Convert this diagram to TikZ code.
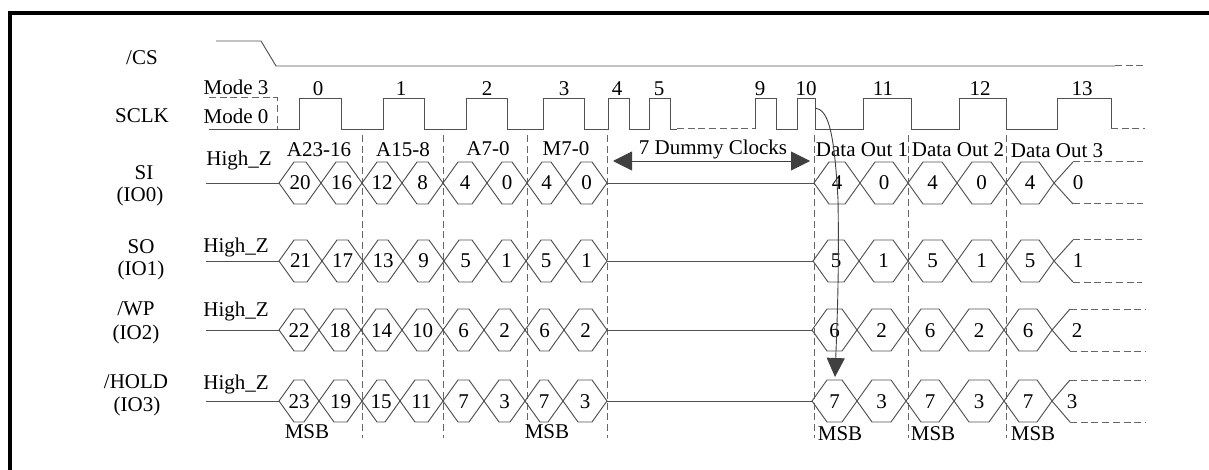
\documentclass[tikz,border=0pt]{standalone}
\usepackage{fontspec}
\setmainfont{Liberation Serif}
\usepackage{tikz}
\usetikzlibrary{arrows.meta}

\begin{document}
\begin{tikzpicture}[
  x=1pt, y=-1pt,
  lab/.style={inner sep=0pt, text height=14pt, text depth=0pt,
    font=\fontsize{21}{23}\selectfont},
  wave/.style={draw=black!68, line width=0.95pt, line join=miter},
  dashwave/.style={draw=black!60, line width=1pt, dash pattern=on 7pt off 3.7pt},
  arr/.style={draw=black!75, line width=0.9pt},
  >={Triangle[length=19pt, width=19pt]}
]
\useasboundingbox (0,0) rectangle (1209,470);
\draw[line width=4pt] (1209,13) -- (10,13) -- (10,470);

\node[lab] (cs) at (142,58) {/CS};
\node[lab] (sclk) at (142,116) {SCLK};
\node[lab] (si) at (144,173) {SI};
\node[lab] (io0) at (140,195) {(IO0)};
\node[lab] (so) at (141,247) {SO};
\node[lab] (io1) at (141,268) {(IO1)};
\node[lab] (wp) at (136,308) {/WP};
\node[lab] (io2) at (136,332) {(IO2)};
\node[lab] (hold) at (136,381) {/HOLD};
\node[lab] (io3) at (137,404) {(IO3)};

\node[lab] (mode3) at (236,88) {Mode 3};
\node[lab] (mode0) at (236,117) {Mode 0};
\node[lab] (hzsi) at (239,159) {High\_Z};
\node[lab] (hzso) at (236,246) {High\_Z};
\node[lab] (hzwp) at (236,309) {High\_Z};
\node[lab] (hzhold) at (236,382) {High\_Z};

\foreach \nm/\xc in {0/318, 1/401, 2/487, 3/564, 4/617, 5/659, 9/760, 10/806,
    11/883, 12/980, 13/1082}
  \node[lab] (clk\nm) at (\xc,89) {\nm};

\node[lab] (a23) at (319,150) {A23-16};
\node[lab] (a15) at (403,150) {A15-8};
\node[lab] (a7) at (488,149) {A7-0};
\node[lab] (m7) at (566,149) {M7-0};
\node[lab] (dummy) at (713,148) {7 Dummy Clocks};
\node[lab] (out1) at (862,150) {Data Out 1};
\node[lab] (out2) at (958,150) {Data Out 2};
\node[lab] (out3) at (1057,151) {Data Out 3};

\draw[wave] (216,41) -- (261,41) -- (276,66) -- (1115,66);
\draw[dashwave] (1115,66) -- (1143,66);

\draw[dashwave] (209,98) -- (277,98) -- (277,129);
\draw[wave] (209,129) -- (299,129) -- (299,98) -- (341,98) -- (341,129)
  -- (383,129) -- (383,98) -- (424,98) -- (424,129) -- (466,129) -- (466,98)
  -- (507,98) -- (507,129) -- (543,129) -- (543,98) -- (584,98) -- (584,129)
  -- (608,129) -- (608,98) -- (629,98) -- (629,129) -- (649,129) -- (649,98)
  -- (670,98) -- (670,129) -- (677,129);
\draw[dashwave] (677,129) -- (755,129);
\draw[wave] (755,129) -- (755,98) -- (776,98) -- (776,129) -- (797,129)
  -- (797,98) -- (815,98) -- (815,129) -- (863,129) -- (863,98) -- (911,98)
  -- (911,129) -- (959,129) -- (959,98) -- (1006,98) -- (1006,129) -- (1057,129)
  -- (1057,98) -- (1111,98) -- (1111,129);
\draw[dashwave] (1111,129) -- (1145,129);

\foreach \xv in {362, 443, 527, 607, 814, 908, 1006}
  \draw[dashwave] (\xv,135) -- (\xv,438);

\foreach \rw/\yc/\xtip/\xl/\xf/\xe/\xlast/\lastlab/\cells in {
  si/183/814/1054/1073/1143/1078/0/{279/321/20, 321/362/16, 362/402/12, 402/443/8,
    443/487/4, 487/527/0, 527/566/4, 566/607/0, 814/860/4, 860/908/0, 908/957/4,
    957/1006/0, 1006/1054/4},
  so/261/813/1054/1073/1142/1078/1/{279/322/21, 322/363/17, 363/403/13, 403/444/9,
    444/487/5, 487/526/1, 526/566/5, 566/607/1, 813/859/5, 859/908/1, 908/957/5,
    957/1006/1, 1006/1054/5},
  wp/330/812/1052/1070/1146/1077/2/{279/319/22, 319/361/18, 361/402/14, 402/443/10,
    443/484/6, 484/525/2, 525/564/6, 564/607/2, 812/857/6, 857/906/2, 906/954/6,
    954/1004/2, 1004/1052/6},
  hold/401/812/1052/1070/1146/1072/3/{279/319/23, 319/362/19, 362/400/15, 400/443/11,
    443/484/7, 484/525/3, 525/563/7, 563/607/3, 812/857/7, 857/906/3, 906/954/7,
    954/1004/3, 1004/1052/7}} {
  \draw[wave] (206,\yc) -- (279,\yc);
  \draw[wave] (607,\yc) -- (\xtip,\yc);
  \foreach \xa/\xb/\bit in \cells {
    \draw[wave] (\xa,\yc) -- (\xa+15,\yc-21) -- (\xb-15,\yc-21) -- (\xb,\yc)
      -- (\xb-15,\yc+21) -- (\xa+15,\yc+21) -- cycle;
    \node[lab] (bit\rw\xa) at ({(\xa+\xb)/2},\yc) {\bit};
  }
  \draw[wave] (\xf,\yc-21) -- (\xl,\yc) -- (\xf,\yc+21);
  \draw[dashwave] (\xf,\yc-21) -- (\xe,\yc-21);
  \draw[dashwave] (\xf,\yc+21) -- (\xe,\yc+21);
  \node[lab] (last\rw) at (\xlast,\yc) {\lastlab};
}

\node[lab] (msb0) at (307,431) {MSB};
\node[lab] (msb1) at (547,431) {MSB};
\node[lab] (msb2) at (840,433) {MSB};
\node[lab] (msb3) at (933,433) {MSB};
\node[lab] (msb4) at (1033,433) {MSB};

\coordinate (dummyl) at (613,161);
\coordinate (dummyr) at (810,161);
\coordinate (ten) at (815,108);
\coordinate (seven) at (835,377);
\draw[arr, <->] (dummyl) -- (dummyr);
\draw[arr, -{Triangle[length=19pt, width=18pt]}] (ten)
  .. controls (827,110) and (834,125) .. (838,200)
  .. controls (839,260) and (838,300) .. (seven);
\end{tikzpicture}
\end{document}
